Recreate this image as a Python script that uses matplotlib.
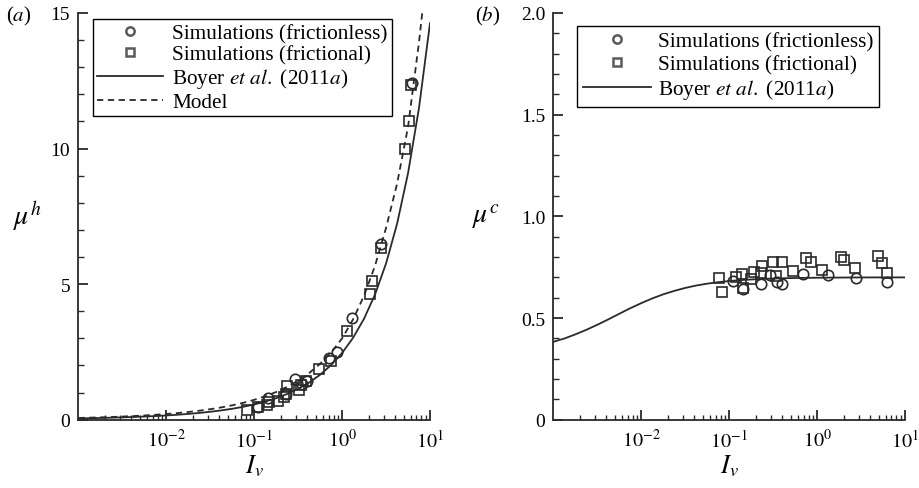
import matplotlib
matplotlib.use("Agg")
import matplotlib.pyplot as plt
from matplotlib.lines import Line2D
from matplotlib.ticker import LogLocator, NullFormatter, FixedLocator, FixedFormatter, MultipleLocator

plt.rcParams["font.family"] = ["Liberation Serif", "DejaVu Serif"]
plt.rcParams["mathtext.fontset"] = "stix"

# ---- data -------------------------------------------------------------
# viscous number samples for the continuous curves
iv_curve = [0.001, 0.001334, 0.001778, 0.002371, 0.003162, 0.004217, 0.005623,
            0.007499, 0.01, 0.01334, 0.01778, 0.02371, 0.03162, 0.04217,
            0.05623, 0.07499, 0.1, 0.1334, 0.1778, 0.2371, 0.3162, 0.4217,
            0.5623, 0.7499, 1.0, 1.334, 1.778, 2.371, 3.162, 4.217, 5.623,
            7.499, 10.0]

# Boyer et al. (2011a) hydrodynamic friction
boyer_mu_h = [0.0472, 0.0547, 0.0634, 0.0736, 0.0854, 0.0992, 0.1153, 0.1342,
              0.1563, 0.1822, 0.2129, 0.2489, 0.2916, 0.3426, 0.4030, 0.4754,
              0.5625, 0.6675, 0.7945, 0.9493, 1.1386, 1.3714, 1.6590, 2.0164,
              2.4625, 3.0232, 3.7282, 4.6230, 5.7627, 7.2202, 9.0910, 11.5039,
              14.6248]

# model hydrodynamic friction
model_mu_h = [0.0642, 0.0744, 0.0861, 0.0998, 0.1156, 0.1341, 0.1556, 0.1807,
              0.2100, 0.2443, 0.2846, 0.3317, 0.3872, 0.4530, 0.5304, 0.6226,
              0.7325, 0.8638, 1.0212, 1.2111, 1.4408, 1.7205, 2.0621, 2.4819,
              3.0000, 3.7020, 4.5780, 5.6820, 7.0740, 8.7000, 10.800, 13.930,
              17.590]

# Boyer et al. (2011a) contact friction
boyer_mu_c = [0.3833, 0.3993, 0.4197, 0.4421, 0.4670, 0.4935, 0.5211, 0.5484,
              0.5733, 0.5965, 0.6166, 0.6335, 0.6480, 0.6598, 0.6690, 0.6763,
              0.6819, 0.6862, 0.6896, 0.6921, 0.6941, 0.6956, 0.6967, 0.6975,
              0.6981, 0.6986, 0.6989, 0.6992, 0.6994, 0.6996, 0.6997, 0.6997,
              0.6998]

# simulations, panel (a)
iv_h_frictionless = [0.109, 0.145, 0.229, 0.29, 0.35, 0.394, 0.70, 0.87, 1.31, 2.79, 6.2]
mu_h_frictionless = [0.45, 0.80, 0.95, 1.50, 1.33, 1.42, 2.28, 2.48, 3.75, 6.48, 12.4]

iv_h_frictional = [0.083, 0.111, 0.14, 0.148, 0.187, 0.219, 0.23, 0.237, 0.32,
                   0.34, 0.39, 0.54, 0.75, 1.15, 2.05, 2.20, 2.80, 5.25, 5.72, 6.15]
mu_h_frictional = [0.34, 0.45, 0.55, 0.66, 0.70, 0.84, 0.95, 1.25, 1.08,
                   1.28, 1.42, 1.86, 2.15, 3.28, 4.64, 5.13, 6.35, 10.0, 11.0, 12.35]

# simulations, panel (b)
iv_c_frictionless = [0.109, 0.145, 0.229, 0.292, 0.349, 0.394, 0.687, 1.32, 2.79, 6.31]
mu_c_frictionless = [0.684, 0.643, 0.667, 0.712, 0.676, 0.667, 0.717, 0.712, 0.696, 0.679]

iv_c_frictional = [0.0764, 0.0836, 0.119, 0.138, 0.145, 0.179, 0.189, 0.229,
                   0.235, 0.317, 0.34, 0.398, 0.527, 0.748, 0.854, 1.13, 1.85,
                   2.0, 2.72, 4.94, 5.49, 6.31]
mu_c_frictional = [0.696, 0.627, 0.700, 0.717, 0.648, 0.692, 0.728, 0.722,
                   0.755, 0.774, 0.708, 0.777, 0.730, 0.794, 0.777, 0.738, 0.799,
                   0.787, 0.745, 0.807, 0.771, 0.722]

x_ticks = [1e-2, 1e-1, 1e0, 1e1]
x_tick_labels = [r"$10^{-2}$", r"$10^{-1}$", r"$10^{0}$", r"$10^{1}$"]
yh_ticks = [0, 5, 10, 15]
yh_tick_labels = ["0", "5", "10", "15"]
yc_ticks = [0, 0.5, 1.0, 1.5, 2.0]
yc_tick_labels = ["0", "0.5", "1.0", "1.5", "2.0"]

# ---- styling ----------------------------------------------------------
INK = "#2a2a2a"
LEG_MARK = "#5a5a5a"
XTICK_FS = 14.5
YTICK_FS = 14
XLABEL_FS = 19
YLABEL_FS = 20
LEG_FS = 15.3
DASH = (3.5, 2.5)

fig = plt.figure(figsize=(9.2, 4.89), dpi=100)
ax_h = fig.add_axes([0.0853, 0.1397, 0.3821, 0.8317])
ax_c = fig.add_axes([0.6016, 0.1397, 0.3821, 0.8317])


def style_axes(ax, yticks, ylabels, yminor):
    ax.set_xscale("log")
    ax.set_xlim(1e-3, 1e1)
    for s in ("top", "right"):
        ax.spines[s].set_visible(False)
    for s in ("left", "bottom"):
        ax.spines[s].set_linewidth(1.3)
        ax.spines[s].set_color(INK)
    ax.xaxis.set_major_locator(FixedLocator(x_ticks))
    ax.xaxis.set_major_formatter(FixedFormatter(x_tick_labels))
    ax.xaxis.set_minor_locator(LogLocator(base=10, subs=range(2, 10), numticks=20))
    ax.xaxis.set_minor_formatter(NullFormatter())
    ax.yaxis.set_major_locator(FixedLocator(yticks))
    ax.yaxis.set_major_formatter(FixedFormatter(ylabels))
    ax.yaxis.set_minor_locator(MultipleLocator(yminor))
    ax.tick_params(which="both", direction="in", colors=INK, labelcolor="black")
    ax.tick_params(axis="x", which="major", length=7, width=1.3, pad=7, labelsize=XTICK_FS)
    ax.tick_params(axis="x", which="minor", length=3.4, width=1.0)
    ax.tick_params(axis="y", which="major", length=7, width=1.3, pad=6, labelsize=YTICK_FS)
    ax.tick_params(axis="y", which="minor", length=4.4, width=1.0)
    ax.set_xlabel(r"$I_v$", fontsize=XLABEL_FS, labelpad=1)


# panel (a)
style_axes(ax_h, yh_ticks, yh_tick_labels, 1)
ax_h.set_ylim(0, 15)
ax_h.plot(iv_curve, boyer_mu_h, color=INK, lw=1.3)
ax_h.plot(iv_curve, model_mu_h, color=INK, lw=1.3, dashes=DASH)
ax_h.plot(iv_h_frictional, mu_h_frictional, ls="none", marker="s", ms=7,
          mfc="none", mec=INK, mew=1.2)
ax_h.plot(iv_h_frictionless, mu_h_frictionless, ls="none", marker="o", ms=7.5,
          mfc="none", mec=INK, mew=1.2)
ax_h.set_ylabel(r"$\mu^h$", fontsize=YLABEL_FS, rotation=0, va="center", ha="center")
ax_h.yaxis.set_label_coords(-0.145, 0.5)

# panel (b)
style_axes(ax_c, yc_ticks, yc_tick_labels, 0.1)
ax_c.set_ylim(0, 2.0)
ax_c.plot(iv_curve, boyer_mu_c, color=INK, lw=1.3)
ax_c.plot(iv_c_frictional, mu_c_frictional, ls="none", marker="s", ms=7,
          mfc="none", mec=INK, mew=1.2)
ax_c.plot(iv_c_frictionless, mu_c_frictionless, ls="none", marker="o", ms=7.5,
          mfc="none", mec=INK, mew=1.2)
ax_c.set_ylabel(r"$\mu^c$", fontsize=YLABEL_FS, rotation=0, va="center", ha="center")
ax_c.yaxis.set_label_coords(-0.192, 0.5)

# legends
h_circ = Line2D([], [], ls="none", marker="o", ms=6, mfc="none", mec=LEG_MARK, mew=1.8)
h_sq = Line2D([], [], ls="none", marker="s", ms=5.5, mfc="none", mec=LEG_MARK, mew=1.8)
h_boyer = Line2D([], [], color=INK, lw=1.3)
h_model = Line2D([], [], color=INK, lw=1.3, dashes=DASH)
boyer_label = r"Boyer $\mathit{et\ al.}$ (2011$\mathit{a}$)"

leg_kw = dict(fontsize=LEG_FS, frameon=True, fancybox=False, edgecolor="black",
              framealpha=1, borderaxespad=0, loc="upper left")
lg = ax_h.legend([h_circ, h_sq, h_boyer, h_model],
                 ["Simulations (frictionless)", "Simulations (frictional)",
                  boyer_label, "Model"],
                 bbox_to_anchor=(0.04, 0.985), labelspacing=0.08, borderpad=0.2,
                 handlelength=3.1, handletextpad=0.45, **leg_kw)
lg.get_frame().set_linewidth(1.0)
lg2 = ax_c.legend([h_circ, h_sq, h_boyer],
                  ["Simulations (frictionless)", "Simulations (frictional)", boyer_label],
                  bbox_to_anchor=(0.066, 0.968), labelspacing=0.13, borderpad=0.28,
                  handlelength=3.2, handletextpad=0.35, **leg_kw)
lg2.get_frame().set_linewidth(1.0)

# panel tags
fig.text(6 / 920, 1 - 16 / 489, r"($\mathit{a}$)", fontsize=15, va="center", ha="left")
fig.text(475 / 920, 1 - 16 / 489, r"($\mathit{b}$)", fontsize=15, va="center", ha="left")

fig.savefig("out.png", dpi=100)
